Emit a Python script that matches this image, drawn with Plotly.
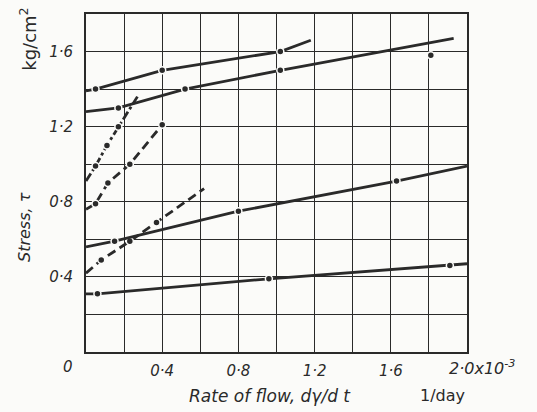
import plotly.graph_objects as go

# ---- data (rate of flow in 1e-3 1/day, stress in kg/cm^2) ----
line1_x = [0.0, 0.05, 0.40, 1.02, 1.18]
line1_y = [1.39, 1.40, 1.50, 1.60, 1.66]
pts1_x = [0.05, 0.40, 1.02]
pts1_y = [1.40, 1.50, 1.60]

line2_x = [0.0, 0.17, 0.52, 1.02, 1.93]
line2_y = [1.28, 1.30, 1.40, 1.50, 1.67]
pts2_x = [0.17, 0.52, 1.02, 1.81]
pts2_y = [1.30, 1.40, 1.50, 1.58]

line3_x = [0.0, 0.05, 0.11, 0.17, 0.27]
line3_y = [0.91, 0.99, 1.10, 1.20, 1.36]
pts3_x = [0.05, 0.11, 0.17]
pts3_y = [0.99, 1.10, 1.20]

line4_x = [0.0, 0.05, 0.115, 0.23, 0.40]
line4_y = [0.76, 0.79, 0.90, 1.00, 1.21]
pts4_x = [0.05, 0.115, 0.23, 0.40]
pts4_y = [0.79, 0.90, 1.00, 1.21]

line5_x = [0.0, 0.08, 0.23, 0.37, 0.62]
line5_y = [0.42, 0.49, 0.59, 0.69, 0.87]
pts5_x = [0.08, 0.23, 0.37]
pts5_y = [0.49, 0.59, 0.69]

line6_x = [0.0, 0.15, 0.80, 1.63, 2.0]
line6_y = [0.56, 0.59, 0.75, 0.91, 0.99]
pts6_x = [0.15, 0.80, 1.63]
pts6_y = [0.59, 0.75, 0.91]

line7_x = [0.0, 0.06, 0.96, 1.91, 2.0]
line7_y = [0.31, 0.31, 0.39, 0.46, 0.47]
pts7_x = [0.06, 0.96, 1.91]
pts7_y = [0.31, 0.39, 0.46]

x_tickvals = [0.4, 0.8, 1.2, 1.6]
x_ticktext = ["0·4", "0·8", "1·2", "1·6"]
y_tickvals = [0.4, 0.8, 1.2, 1.6]
y_ticktext = ["0·4", "0·8", "1·2", "1·6"]

series = [
    (line1_x, line1_y, pts1_x, pts1_y, "solid"),
    (line2_x, line2_y, pts2_x, pts2_y, "solid"),
    (line3_x, line3_y, pts3_x, pts3_y, "dashdot"),
    (line4_x, line4_y, pts4_x, pts4_y, "9px,5px"),
    (line5_x, line5_y, pts5_x, pts5_y, "9px,5px"),
    (line6_x, line6_y, pts6_x, pts6_y, "solid"),
    (line7_x, line7_y, pts7_x, pts7_y, "solid"),
]

INK = "#2a2a2a"
BG = "#fbfbf9"
FONT = "DejaVu Sans"

fig = go.Figure()
for lx, ly, px, py, dash in series:
    fig.add_trace(go.Scatter(x=lx, y=ly, mode="lines",
                             line=dict(color=INK, width=2.8, dash=dash),
                             showlegend=False, hoverinfo="skip"))
    fig.add_trace(go.Scatter(x=px, y=py, mode="markers",
                             marker=dict(color=INK, size=7,
                                         line=dict(color=BG, width=1.5)),
                             showlegend=False))

fig.update_layout(
    width=537, height=412,
    margin=dict(l=86, r=70, t=12, b=60),
    paper_bgcolor=BG, plot_bgcolor=BG,
    font=dict(family=FONT, color=INK, size=14),
    xaxis=dict(range=[0, 2.0], showgrid=True,
               gridcolor=INK, gridwidth=1.4, zeroline=False,
               showline=True, linecolor=INK, linewidth=2, mirror=True,
               tickmode="array", tickvals=x_tickvals, ticktext=x_ticktext,
               ticks="", ticklabelstandoff=4,
               tickfont=dict(family=FONT, size=15, color=INK, style="italic")),
    yaxis=dict(range=[0, 1.8], showgrid=True,
               gridcolor=INK, gridwidth=1.4, zeroline=False,
               showline=True, linecolor=INK, linewidth=2, mirror=True,
               tickmode="array", tickvals=y_tickvals, ticktext=y_ticktext,
               ticks="", ticklabelstandoff=8,
               tickfont=dict(family=FONT, size=15, color=INK, style="italic")),
)

# grid every 0.2 via minor grid
fig.update_xaxes(minor=dict(tickvals=[0.2 * i for i in range(1, 10)], showgrid=True,
                            gridcolor=INK, gridwidth=1.4))
fig.update_yaxes(minor=dict(tickvals=[0.2 * i for i in range(1, 9)], showgrid=True,
                            gridcolor=INK, gridwidth=1.4))

# origin and end labels
fig.add_annotation(text="0", xref="paper", yref="paper", x=-0.047, y=-0.045,
                   xanchor="center", yanchor="middle", showarrow=False,
                   font=dict(family=FONT, size=15, color=INK, style="italic"))
fig.add_annotation(text="2·0x10<sup>-3</sup>", xref="paper", yref="paper",
                   x=0.948, y=-0.045, xanchor="left", yanchor="middle", showarrow=False,
                   font=dict(family=FONT, size=16, color=INK, style="italic"))
# axis titles
fig.add_annotation(text="Rate of flow, dγ/d t", xref="paper", yref="paper",
                   x=0.483, y=-0.129, xanchor="center", yanchor="middle", showarrow=False,
                   font=dict(family=FONT, size=17, color=INK, style="italic"))
fig.add_annotation(text="1/day", xref="paper", yref="paper",
                   x=0.935, y=-0.129, xanchor="center", yanchor="middle", showarrow=False,
                   font=dict(family=FONT, size=16, color=INK))
fig.add_annotation(text="Stress, τ", xref="paper", yref="paper",
                   x=-0.16, y=0.37, xanchor="center", yanchor="middle", showarrow=False,
                   textangle=-90,
                   font=dict(family=FONT, size=16, color=INK, style="italic"))
fig.add_annotation(text="kg/cm<sup>2</sup>", xref="paper", yref="paper",
                   x=-0.152, y=0.924, xanchor="center", yanchor="middle", showarrow=False,
                   textangle=-90,
                   font=dict(family=FONT, size=18, color=INK))

fig.write_html("out.html")
